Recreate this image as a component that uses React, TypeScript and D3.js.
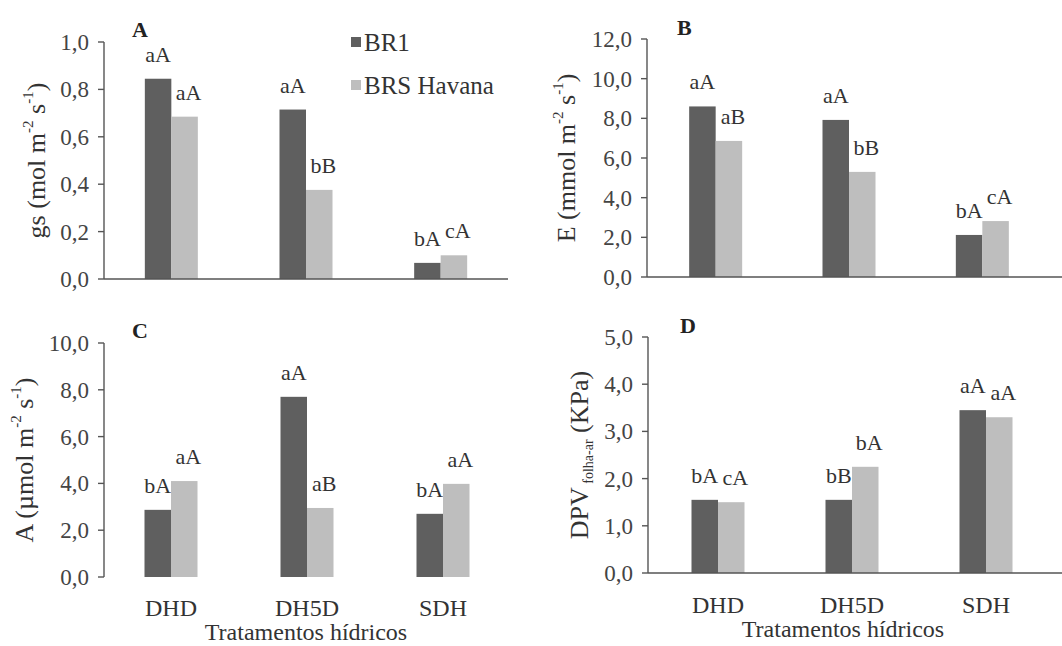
import React from "react";
import * as d3 from "d3";

// treatments and cultivars
const categories = ["DHD", "DH5D", "SDH"];
const series = ["BR1", "BRS Havana"];
const seriesColors = ["#5f5f5f", "#bebebe"];

// A - stomatal conductance
const gsBR1 = [0.845, 0.715, 0.068];
const gsHavana = [0.685, 0.376, 0.1];
const gsLetBR1 = ["aA", "aA", "bA"];
const gsLetHavana = ["aA", "bB", "cA"];
const gsTicks = [0, 0.2, 0.4, 0.6, 0.8, 1.0];

// B - transpiration
const eBR1 = [8.6, 7.92, 2.12];
const eHavana = [6.86, 5.3, 2.82];
const eLetBR1 = ["aA", "aA", "bA"];
const eLetHavana = ["aB", "bB", "cA"];
const eTicks = [0, 2, 4, 6, 8, 10, 12];

// C - net photosynthesis
const aBR1 = [2.87, 7.7, 2.7];
const aHavana = [4.1, 2.95, 3.98];
const aLetBR1 = ["bA", "aA", "bA"];
const aLetHavana = ["aA", "aB", "aA"];
const aTicks = [0, 2, 4, 6, 8, 10];

// D - leaf-air vapour pressure deficit
const dpvBR1 = [1.55, 1.55, 3.45];
const dpvHavana = [1.5, 2.25, 3.3];
const dpvLetBR1 = ["bA", "bB", "aA"];
const dpvLetHavana = ["cA", "bA", "aA"];
const dpvTicks = [0, 1, 2, 3, 4, 5];

const xTitle = "Tratamentos hídricos";

const fmt = (v: number) => d3.format(".1f")(v).replace(".", ",");

const FONT = '"Liberation Serif", "Times New Roman", serif';
const AXIS = "#555";
const TEXT = "#333";
const BAR_W = 26.5;

const panels = [
  {
    letter: "A", values: [gsBR1, gsHavana], letters: [gsLetBR1, gsLetHavana], ticks: gsTicks,
    axisX: 104, top: 42, bottom: 279, bandL: 104, bandR: 508, lineR: 508, xLine: true,
    letterPos: [132, 37], title: "gs", titleX: 36, cats: false,
  },
  {
    letter: "B", values: [eBR1, eHavana], letters: [eLetBR1, eLetHavana], ticks: eTicks,
    axisX: 647, top: 39, bottom: 277, bandL: 649, bandR: 1049, lineR: 1062, xLine: true,
    letterPos: [677, 35], title: "E", titleX: 566, cats: false,
  },
  {
    letter: "C", values: [aBR1, aHavana], letters: [aLetBR1, aLetHavana], ticks: aTicks,
    axisX: 104, top: 343, bottom: 577, bandL: 103, bandR: 511, lineR: 104, xLine: false,
    letterPos: [132, 338], title: "A", titleX: 24, cats: true, catY: 616, titleY: 640, titleCx: 306,
  },
  {
    letter: "D", values: [dpvBR1, dpvHavana], letters: [dpvLetBR1, dpvLetHavana], ticks: dpvTicks,
    axisX: 648, top: 337, bottom: 573, bandL: 651, bandR: 1053, lineR: 1062, xLine: true,
    letterPos: [680, 333], title: "DPV", titleX: 579, cats: true, catY: 613, titleY: 637, titleCx: 843,
  },
];

const txt = (size: number, extra: React.CSSProperties = {}): React.CSSProperties => ({
  fontFamily: FONT,
  fontSize: size,
  ...extra,
});

function YTitle({ kind, x, y }: { kind: string; x: number; y: number }) {
  const supSize = 15;
  const supDy = -8;
  const common = {
    transform: `translate(${x},${y}) rotate(-90)`,
    textAnchor: "middle" as const,
    dominantBaseline: "central" as const,
    style: txt(26),
    fill: TEXT,
  };
  if (kind === "DPV") {
    return (
      <text {...common}>
        DPV
        <tspan style={txt(14)} dy={9}> folha-ar</tspan>
        <tspan dy={-9}> (KPa)</tspan>
      </text>
    );
  }
  const head = kind === "gs" ? "gs (mol m" : kind === "E" ? "E (mmol m" : "A (µmol m";
  return (
    <text {...common}>
      {head}
      <tspan style={txt(supSize)} dy={supDy}>-2</tspan>
      <tspan dy={-supDy}> s</tspan>
      <tspan style={txt(supSize)} dy={supDy}>-1</tspan>
      <tspan dy={-supDy}>)</tspan>
    </text>
  );
}

function Panel({ p }: { p: (typeof panels)[number] }) {
  const max = p.ticks[p.ticks.length - 1];
  const y = d3.scaleLinear().domain([0, max]).range([p.bottom, p.top]);
  const x = d3.scaleBand().domain(categories).range([p.bandL, p.bandR]);
  const inner = d3.scaleBand().domain(series).range([-BAR_W, BAR_W]);
  const cx = (c: string) => (x(c) ?? 0) + x.bandwidth() / 2;

  return (
    <g>
      {series.map((s, si) =>
        categories.map((c, ci) => {
          const v = p.values[si][ci];
          const bx = cx(c) + (inner(s) ?? 0);
          return (
            <g key={s + c}>
              <rect x={bx} y={y(v)} width={inner.bandwidth()} height={p.bottom - y(v)} fill={seriesColors[si]} />
              <text
                x={bx + inner.bandwidth() / 2 + (si === 1 ? 4 : 0)}
                y={y(v) - 17}
                textAnchor="middle"
                style={txt(22)}
                fill={TEXT}
              >
                {p.letters[si][ci]}
              </text>
            </g>
          );
        })
      )}
      <line x1={p.axisX} x2={p.axisX} y1={p.top} y2={p.bottom} stroke={AXIS} strokeWidth={1.4} />
      {p.xLine && <line x1={p.axisX} x2={p.lineR} y1={p.bottom} y2={p.bottom} stroke={AXIS} strokeWidth={1.4} />}
      {p.ticks.map((t) => (
        <g key={t}>
          <line x1={p.axisX - 6} x2={p.axisX} y1={y(t)} y2={y(t)} stroke={AXIS} strokeWidth={1.4} />
          <text x={p.axisX - 15} y={y(t)} dy="0.35em" textAnchor="end" style={txt(23)} fill="#444">
            {fmt(t)}
          </text>
        </g>
      ))}
      <text x={p.letterPos[0]} y={p.letterPos[1]} style={txt(22, { fontWeight: "bold" })} fill="#222">
        {p.letter}
      </text>
      <YTitle kind={p.title} x={p.titleX} y={(p.top + p.bottom) / 2} />
      {p.cats &&
        categories.map((c) => (
          <text key={c} x={cx(c)} y={p.catY} textAnchor="middle" style={txt(24)} fill={TEXT}>
            {c}
          </text>
        ))}
      {p.cats && (
        <text x={p.titleCx} y={p.titleY} textAnchor="middle" style={txt(24)} fill={TEXT}>
          {xTitle}
        </text>
      )}
    </g>
  );
}

export default function App() {
  return (
    <svg
      width={1062}
      height={646}
      style={{ position: "absolute", left: 0, top: 0, background: "#fff", fontFamily: FONT }}
    >
      <rect width={1062} height={646} fill="#fff" />
      {panels.map((p) => (
        <Panel key={p.letter} p={p} />
      ))}
      {series.map((s, i) => (
        <g key={s} transform={`translate(351,${42 + i * 43})`}>
          <rect x={0} y={-5} width={10} height={10} fill={seriesColors[i]} />
          <text x={13} y={0} dy="0.35em" style={txt(25)} fill={TEXT}>
            {s}
          </text>
        </g>
      ))}
    </svg>
  );
}
